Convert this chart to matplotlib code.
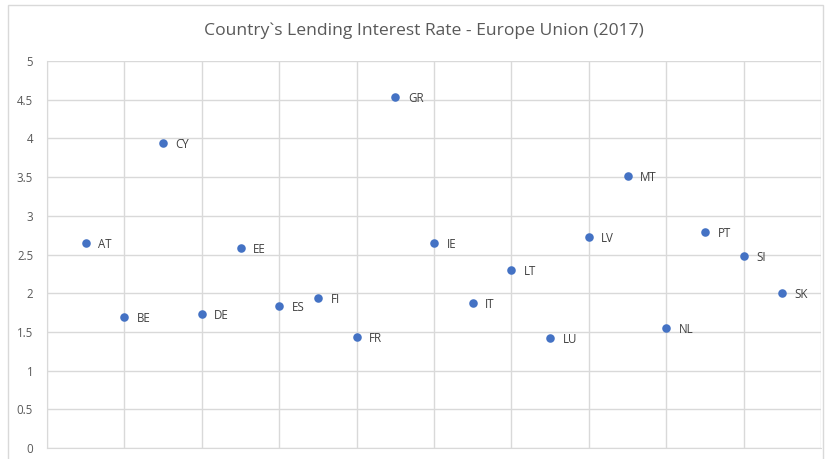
import matplotlib
matplotlib.use("Agg")
import matplotlib.pyplot as plt
from matplotlib.patches import Rectangle

countries = ["AT", "BE", "CY", "DE", "EE", "ES", "FI", "FR", "GR", "IE",
             "IT", "LT", "LU", "LV", "MT", "NL", "PT", "SI", "SK"]
rates = [2.65, 1.69, 3.94, 1.73, 2.58, 1.83, 1.94, 1.43, 4.53, 2.65,
         1.87, 2.30, 1.42, 2.73, 3.51, 1.55, 2.79, 2.48, 2.00]
positions = list(range(1, len(countries) + 1))
y_ticks = [0, 0.5, 1, 1.5, 2, 2.5, 3, 3.5, 4, 4.5, 5]
y_tick_labels = ["0", "0.5", "1", "1.5", "2", "2.5", "3", "3.5", "4", "4.5", "5"]
x_grid = list(range(0, 21, 2))

plt.rcParams['font.family'] = ['Open Sans', 'DejaVu Sans']

fig = plt.figure(figsize=(8.25, 4.59), dpi=100)
fig.patches.append(Rectangle((8/825, -0.01), (824-8)/825 - 0.001, 1 - 5/459 + 0.01,
                             transform=fig.transFigure, fill=False,
                             edgecolor='#d9d9d9', linewidth=1))
ax = fig.add_axes([47/825, 1 - 448/459, (821-47)/825, (448-61)/459])

ax.scatter(positions, rates, s=38, color='#4472c4', zorder=3, linewidths=0)
for x, y, lab in zip(positions, rates, countries):
    ax.annotate(lab, (x, y), xytext=(9, -1), textcoords='offset points',
                ha='left', va='center', fontsize=8.3, color='#404040')

ax.set_xlim(0, 20)
ax.set_ylim(0, 5)
ax.set_yticks(y_ticks)
ax.set_yticklabels(y_tick_labels)
ax.set_xticks(x_grid)
ax.tick_params(axis='x', length=0, labelbottom=False)
ax.tick_params(axis='y', length=0, labelsize=8.3, colors='#595959', pad=10)
ax.grid(True, color='#d9d9d9', linewidth=1)
ax.set_axisbelow(True)
for s in ['top', 'right']:
    ax.spines[s].set_visible(False)
ax.spines['left'].set_color('#d9d9d9')
ax.spines['bottom'].set_color('#d9d9d9')

fig.text(423.5/825, 1 - 31/459, "Country`s Lending Interest Rate - Europe Union (2017)",
         ha='center', va='center', fontsize=12.6, color='#595959')

fig.savefig("out.png", dpi=100)
